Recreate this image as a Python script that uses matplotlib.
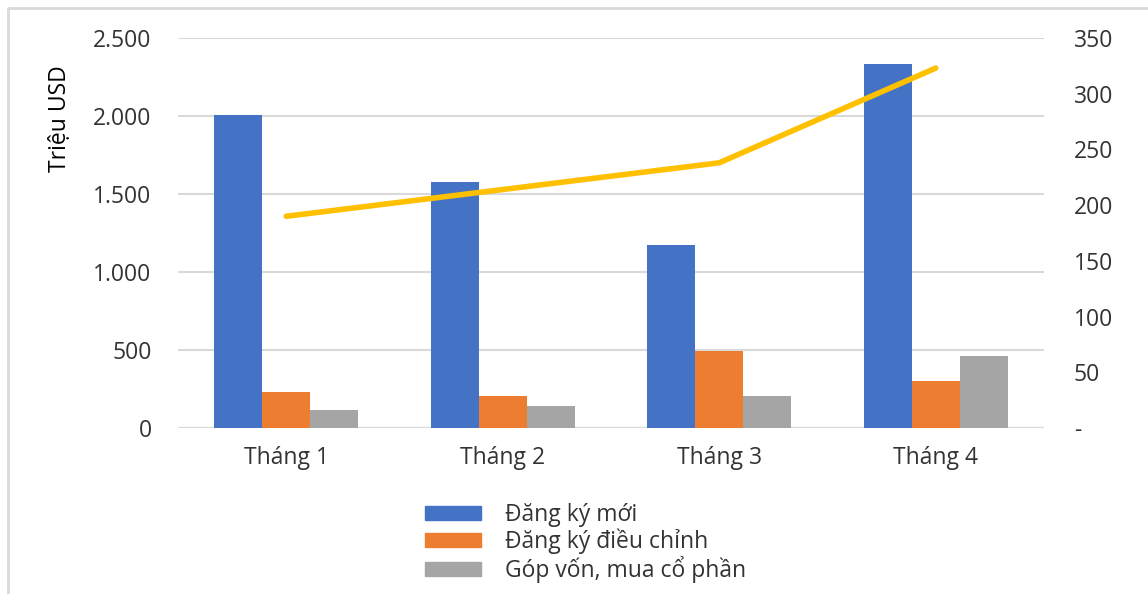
import matplotlib
matplotlib.use("Agg")
import matplotlib.pyplot as plt
import numpy as np
from matplotlib.ticker import FuncFormatter
from matplotlib.patches import Rectangle
from matplotlib.lines import Line2D

plt.rcParams['font.family'] = ['Open Sans', 'DejaVu Sans']

# dữ liệu
months = ['Tháng 1', 'Tháng 2', 'Tháng 3', 'Tháng 4']
dang_ky_moi = [2006, 1578, 1173, 2333]
dang_ky_dieu_chinh = [231, 205, 494, 301]
gop_von = [115, 141, 205, 462]
so_du_an = [190, 214, 238, 323]  # trục phụ

series_names = ['Đăng ký mới', 'Đăng ký điều chỉnh', 'Góp vốn, mua cổ phần']
colors = ['#4472C4', '#ED7D31', '#A5A5A5']
line_color = '#FFC000'
text_color = '#333333'
grid_color = '#D9D9D9'
fs = 16.5

W, H = 1148, 594
fig = plt.figure(figsize=(W / 100, H / 100), dpi=100)
ax = fig.add_axes([178 / W, 1 - 428 / H, (1044 - 178) / W, (428 - 38) / H])
ax2 = ax.twinx()

x = np.arange(len(months))
width = 0.222
for i, (vals, c) in enumerate(zip([dang_ky_moi, dang_ky_dieu_chinh, gop_von], colors)):
    ax.bar(x + (i - 1) * width, vals, width=width, color=c, zorder=3)

ax2.plot(x, so_du_an, color=line_color, linewidth=4, solid_capstyle='round', zorder=4)

ax.set_xlim(-0.5, 3.5)
ax.set_ylim(0, 2500)
ax.set_yticks(np.arange(0, 2501, 500))
ax2.set_ylim(0, 350)
ax2.set_yticks(np.arange(0, 351, 50))

ax.yaxis.set_major_formatter(FuncFormatter(lambda v, p: f"{int(v):,}".replace(',', '.')))
ax2.yaxis.set_major_formatter(FuncFormatter(lambda v, p: '-' if v == 0 else f"{int(v)}"))

ax.set_xticks(x)
ax.set_xticklabels(months)

ax.grid(axis='y', color=grid_color, linewidth=1.5, zorder=0)
for a in (ax, ax2):
    for s in a.spines.values():
        s.set_visible(False)
ax.axhline(0, color=grid_color, linewidth=1.5, zorder=2)
ax.set_axisbelow(True)

ax.tick_params(axis='both', length=0, labelsize=fs, colors=text_color)
ax.tick_params(axis='y', pad=19)
ax.tick_params(axis='x', pad=13)
ax2.tick_params(axis='y', length=0, labelsize=fs, colors=text_color, pad=21.5)

fig.text(60 / W, 1 - 119 / H, 'Triệu USD', rotation=90, ha='center', va='center',
         fontsize=fs, color='black')

handles = [Rectangle((0, 0), 1, 1, color=c) for c in colors]
leg = fig.legend(handles, series_names, loc='upper left',
                 bbox_to_anchor=(425 / W, 1 - 503 / H), frameon=False,
                 fontsize=fs, handlelength=2.45, handleheight=0.55,
                 handletextpad=1.05, labelspacing=0.08, borderpad=0, borderaxespad=0)
for t in leg.get_texts():
    t.set_color(text_color)

# khung viền
fig.add_artist(Line2D([8 / W, 8 / W, 1], [0, 1 - 8 / H, 1 - 8 / H],
                      transform=fig.transFigure, color=grid_color, linewidth=2))

fig.savefig('out.png', dpi=100)
